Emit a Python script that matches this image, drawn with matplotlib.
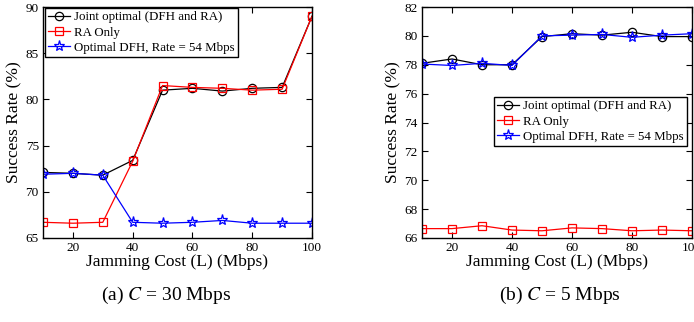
import matplotlib
matplotlib.use("Agg")
import matplotlib.pyplot as plt
import numpy as np

plt.rcParams['font.family'] = ['Liberation Serif', 'DejaVu Serif']
plt.rcParams['mathtext.fontset'] = 'stix'

# jamming cost (L) in Mbps
cost = [10, 20, 30, 40, 50, 60, 70, 80, 90, 100]

# (a) C = 30 Mbps
joint_30 = [72.1, 72.0, 71.8, 73.4, 81.0, 81.2, 80.9, 81.2, 81.3, 89.0]
ra_30 = [66.7, 66.6, 66.7, 73.3, 81.5, 81.3, 81.2, 81.0, 81.1, 89.0]
dfh_30 = [71.9, 72.0, 71.8, 66.7, 66.6, 66.7, 66.9, 66.6, 66.6, 66.6]

# (b) C = 5 Mbps
joint_5 = [78.1, 78.4, 78.0, 78.0, 79.95, 80.15, 80.05, 80.25, 79.95, 79.95]
ra_5 = [66.65, 66.65, 66.85, 66.55, 66.5, 66.7, 66.65, 66.5, 66.55, 66.5]
dfh_5 = [78.05, 77.95, 78.1, 77.95, 80.0, 80.05, 80.1, 79.9, 80.05, 80.15]

labels = ['Joint optimal (DFH and RA)', 'RA Only', 'Optimal DFH, Rate = 54 Mbps']

fig = plt.figure(figsize=(6.94, 3.22), dpi=100)
ax1 = fig.add_axes([43/694, 1-238/322, 269/694, 231/322])
ax2 = fig.add_axes([422/694, 1-238/322, 270/694, 231/322])


def draw(ax, joint, ra, dfh):
    ax.plot(cost, joint, color='black', marker='o', mfc='none', ms=6, lw=0.9, mew=0.9, label=labels[0])
    ax.plot(cost, ra, color='red', marker='s', mfc='none', ms=5.5, lw=0.9, mew=0.9, label=labels[1])
    ax.plot(cost, dfh, color='blue', marker='*', mfc='none', ms=8, lw=0.9, mew=0.9, label=labels[2])
    ax.set_xlim(10, 100)
    ax.set_xticks([20, 40, 60, 80, 100])
    ax.set_xlabel('Jamming Cost (L) (Mbps)', fontsize=12.5, labelpad=0)
    ax.set_ylabel('Success Rate (%)', fontsize=12.5, labelpad=2)
    ax.tick_params(direction='in', top=True, right=True, labelsize=9.5, length=4, pad=3)
    for s in ax.spines.values():
        s.set_linewidth(1.0)


legend_kw = dict(fontsize=9.3, handlelength=1.7, handletextpad=0.3, borderpad=0.25,
                 labelspacing=0.25, borderaxespad=0, fancybox=False,
                 edgecolor='black', framealpha=1)

draw(ax1, joint_30, ra_30, dfh_30)
ax1.set_ylim(65, 90)
ax1.set_yticks([65, 70, 75, 80, 85, 90])
leg = ax1.legend(loc='upper left', bbox_to_anchor=(0.007, 0.995), **legend_kw)
leg.get_frame().set_linewidth(1.0)

draw(ax2, joint_5, ra_5, dfh_5)
ax2.set_ylim(66, 82)
ax2.set_yticks(np.arange(66, 83, 2))
leg = ax2.legend(loc='upper right', bbox_to_anchor=(0.981, 0.61), **legend_kw)
leg.get_frame().set_linewidth(1.0)

fig.text(166/694, 1-300/322, '(a) $C$ = 30 Mbps', ha='center', fontsize=14)
fig.text(560/694, 1-300/322, '(b) $C$ = 5 Mbps', ha='center', fontsize=14)

fig.savefig('out.png', dpi=100)
